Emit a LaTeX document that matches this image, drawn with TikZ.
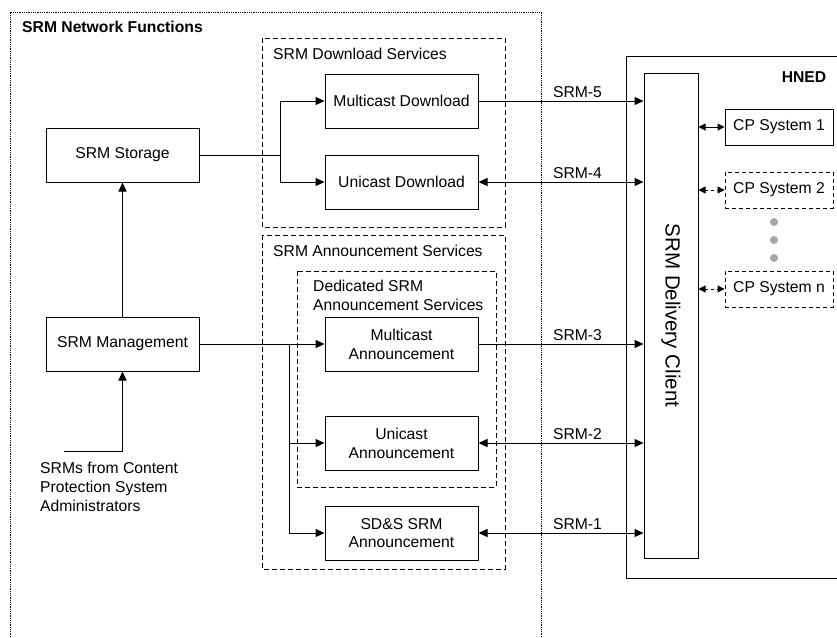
\documentclass[tikz,border=0pt]{standalone}
\usepackage{fontspec}
\setmainfont{Liberation Sans}
\usetikzlibrary{arrows.meta}
\tikzset{
  box/.style={draw, line width=1pt, minimum width=153pt, minimum height=54pt, inner sep=0pt, align=center},
  cpbox/.style={draw, line width=1pt, minimum width=108pt, minimum height=36pt, inner sep=0pt},
  grp/.style={draw, line width=1pt, dash pattern=on 5pt off 3pt},
  lnk/.style={line width=1pt, -{Triangle[length=9pt,width=8pt]}},
  blnk/.style={line width=1pt, {Triangle[length=9pt,width=8pt]}-{Triangle[length=9pt,width=8pt]}},
  cplnk/.style={line width=1pt, {Triangle[length=7pt,width=7pt]}-{Triangle[length=7pt,width=7pt]}},
  srm/.style={above, pos=0.6},
  txt/.style={inner sep=0pt, align=left}
}
\begin{document}
\begin{tikzpicture}[x=1pt,y=-1pt,font=\fontsize{15.7}{18.8}\selectfont]
\useasboundingbox (0,0) rectangle (837,637);
\draw[line width=0.8pt, densely dotted] (10,637) |- (541,12) -- (541,637);
\node[txt, anchor=west, font=\fontsize{15.7}{18.8}\selectfont\bfseries] (nf) at (22,27) {SRM Network Functions};
\draw[grp] (262,38) rectangle (505,227);
\draw[grp] (262,235) rectangle (505,569);
\draw[grp] (297,271) rectangle (496,487);
\node[txt, anchor=west] (dls) at (273,54) {SRM Download Services};
\node[txt, anchor=west] (ans) at (273,251) {SRM Announcement Services};
\node[txt, anchor=north west] (dan) at (313,280) {Dedicated SRM\\Announcement Services};
\draw[line width=1pt] (837,56) -| (626,578) -- (837,578);
\node[txt, font=\fontsize{15.7}{18.8}\selectfont\bfseries] (hned) at (804,77) {HNED};

\node[box] (stor) at (122.5,155) {SRM Storage};
\node[box] (mgmt) at (122.5,344) {SRM Management};
\node[txt] (admins) at (40,487) [anchor=west] {SRMs from Content\\Protection System\\Administrators};
\node[box] (mdl) at (401.5,101) {Multicast Download};
\node[box] (udl) at (401.5,182) {Unicast Download};
\node[box] (man) at (401.5,344) {Multicast\\Announcement};
\node[box] (uan) at (401.5,443) {Unicast\\Announcement};
\node[box] (sds) at (401.5,533) {SD\&S SRM\\Announcement};

\node[draw, line width=1pt, minimum width=54pt, minimum height=485pt, inner sep=0pt] (client) at (671,315.5) {};
\node[rotate=-90, font=\fontsize{20.5}{24}\selectfont] (clienttxt) at (client.center) {SRM Delivery Client};
\node[cpbox] (cp1) at (779,127) {CP System 1};
\node[cpbox, dash pattern=on 4pt off 3pt] (cp2) at (779,190) {CP System 2};
\node[cpbox, dash pattern=on 4pt off 3pt] (cpn) at (779,289) {CP System n};
\foreach \y in {222,240,258} \fill[gray!70] (774,\y) circle (4pt);

\coordinate (sj) at (280,155); \coordinate (aj) at (289,344); \coordinate (src) at (64,451);
\draw[line width=1pt] (stor.east) -- (sj);
\draw[lnk] (sj) |- (mdl.west); \draw[lnk] (sj) |- (udl.west);
\draw[lnk] (mgmt.east) -- (man.west);
\draw[lnk] (aj) |- (uan.west); \draw[lnk] (aj) |- (sds.west);
\draw[lnk] (mgmt.north) -- (stor.south);
\draw[lnk] (src) -| (mgmt.south);

\draw[lnk] (mdl.east) -- (mdl.east -| client.west) node[srm] (s5) {SRM-5};
\draw[blnk] (udl.east) -- (udl.east -| client.west) node[srm] (s4) {SRM-4};
\draw[lnk] (man.east) -- (man.east -| client.west) node[srm] (s3) {SRM-3};
\draw[blnk] (uan.east) -- (uan.east -| client.west) node[srm] (s2) {SRM-2};
\draw[blnk] (sds.east) -- (sds.east -| client.west) node[srm] (s1) {SRM-1};

\draw[cplnk] (cp1.west -| client.east) -- (cp1.west);
\draw[cplnk, dash pattern=on 3pt off 3pt] (cp2.west -| client.east) -- (cp2.west);
\draw[cplnk, dash pattern=on 3pt off 3pt] (cpn.west -| client.east) -- (cpn.west);
\end{tikzpicture}
\end{document}
